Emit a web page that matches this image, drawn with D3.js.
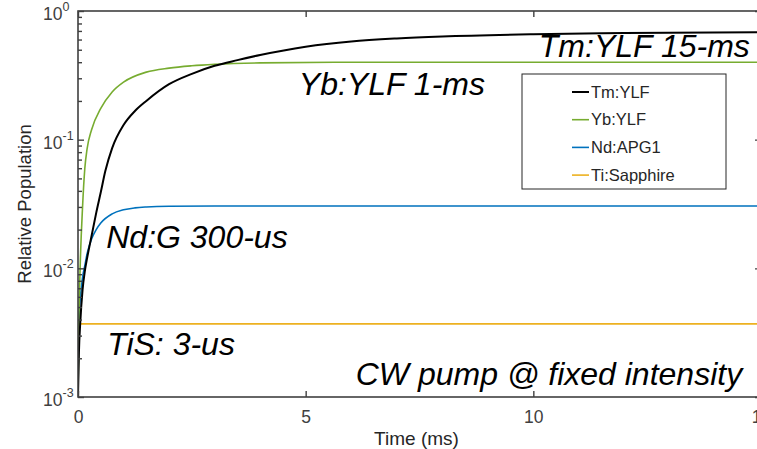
<!DOCTYPE html>
<html>
<head>
	<meta charset='utf-8'>
	<style>
		body { margin: 0; background: #fff; }
		svg { font-family: 'Liberation Sans', Arial, sans-serif; }
		.note { font-style: italic; font-size: 32px; fill: #000; }
		.legend text { font-size: 16.5px; fill: #262626; }
	</style>
</head>
<body>
<script src='https://d3js.org/d3.v7.min.js'></script>
<script>
	'use strict';
	// данные (время в мс, относительная населённость)
	const tmTime = [0, 0.02, 0.05, 0.1, 0.15, 0.2, 0.3, 0.4, 0.5, 0.6, 0.75, 1, 1.25, 1.5, 2, 2.5, 3, 3.5, 4, 5, 6, 7, 8, 10, 12, 15];
	const tmPop = [0.001, 0.0022, 0.0038, 0.0068, 0.0095, 0.012, 0.018, 0.027, 0.039, 0.057, 0.086, 0.13, 0.167, 0.2, 0.27, 0.325, 0.375, 0.415, 0.455, 0.528, 0.58, 0.612, 0.634, 0.66, 0.674, 0.685];

	const ybTime = [0, 0.02, 0.05, 0.1, 0.15, 0.2, 0.3, 0.5, 0.75, 1, 1.5, 2, 2.5, 3, 4, 6, 15];
	const ybPop = [0.001, 0.004, 0.011, 0.03, 0.06, 0.085, 0.12, 0.175, 0.235, 0.28, 0.335, 0.36, 0.375, 0.385, 0.395, 0.40, 0.40];

	const ndTime = [0, 0.01, 0.03, 0.05, 0.1, 0.15, 0.2, 0.3, 0.4, 0.5, 0.75, 1, 1.25, 1.5, 2, 3, 15];
	const ndPop = [0.001, 0.0035, 0.0048, 0.0058, 0.0085, 0.0105, 0.013, 0.017, 0.02, 0.0225, 0.0265, 0.0285, 0.0295, 0.030, 0.0304, 0.0305, 0.0305];

	const tisTime = [0, 0.002, 0.01, 15];
	const tisPop = [0.001, 0.0036, 0.0037, 0.0037];

	const seriesNames = ['Tm:YLF', 'Yb:YLF', 'Nd:APG1', 'Ti:Sapphire'];
	const seriesColors = ['#000000', '#77ac30', '#0072bd', '#edb120'];
	const xTicks = [0, 5, 10, 15];
	const yTicks = [1e-3, 1e-2, 1e-1, 1];
	const yExp = ['-3', '-2', '-1', '0'];

	// подписи на графике: текст, время, уровень
	const noteText = ['Tm:YLF 15-ms', 'Yb:YLF 1-ms', 'Nd:G 300-us', 'TiS: 3-us', 'CW pump @ fixed intensity'];
	const noteTime = [10.12, 4.85, 0.62, 0.64, 6.1];
	const notePop = [0.44, 0.222, 0.0144, 0.00212, 0.00124];

	const W = 757, H = 449;
	const m = {left: 78, right: 761, top: 11, bottom: 397};

	const x = d3.scaleLinear().domain([0, 15]).range([m.left, m.right]);
	const y = d3.scaleLog().domain([1e-3, 1]).range([m.bottom, m.top]);

	const svg = d3.select('body').append('svg')
		.attr('width', W)
		.attr('height', H);

	svg.append('defs').append('clipPath').attr('id', 'plot')
		.append('rect')
		.attr('x', m.left).attr('y', m.top)
		.attr('width', m.right - m.left).attr('height', m.bottom - m.top);

	// кривые
	const series = [
		{t: tmTime, v: tmPop, w: 2},
		{t: ybTime, v: ybPop, w: 1.6},
		{t: ndTime, v: ndPop, w: 1.6},
		{t: tisTime, v: tisPop, w: 1.8}
	];
	const line = d3.line()
		.x(function(d) {return x(d[0]);})
		.y(function(d) {return y(d[1]);})
		.curve(d3.curveMonotoneX);

	const g = svg.append('g').attr('clip-path', 'url(#plot)');
	// порядок рисования: оранжевый снизу, черный сверху
	[3, 2, 1, 0].forEach(function(i) {
		const s = series[i];
		g.append('path')
			.attr('d', line(d3.zip(s.t, s.v)))
			.attr('fill', 'none')
			.attr('stroke', seriesColors[i])
			.attr('stroke-width', s.w);
	});

	// оси
	const axisColor = '#404040';
	const ax = svg.append('g').attr('class', 'axis');

	ax.append('rect')
		.attr('x', m.left).attr('y', m.top)
		.attr('width', m.right - m.left).attr('height', m.bottom - m.top)
		.attr('fill', 'none')
		.attr('stroke', axisColor)
		.attr('stroke-width', 1.6);

	ax.append('g')
		.attr('transform', 'translate(0,' + m.bottom + ')')
		.call(d3.axisBottom(x).tickValues(xTicks).tickSizeInner(-6).tickSizeOuter(0).tickPadding(14));
	ax.append('g')
		.attr('transform', 'translate(0,' + m.top + ')')
		.call(d3.axisTop(x).tickValues(xTicks).tickSizeInner(-6).tickSizeOuter(0).tickFormat(''));

	// малые деления по логарифмической оси
	const minor = [];
	for (let e = -3; e < 0; e++) {
		for (let k = 2; k <= 9; k++) minor.push(k * Math.pow(10, e));
	}
	ax.append('g')
		.attr('transform', 'translate(' + m.left + ',0)')
		.call(d3.axisLeft(y).tickValues(yTicks).tickSizeInner(-6).tickSizeOuter(0).tickFormat(''));
	ax.append('g')
		.attr('transform', 'translate(' + m.left + ',0)')
		.call(d3.axisLeft(y).tickValues(minor).tickSizeInner(-4).tickSizeOuter(0).tickFormat(''));
	ax.append('g')
		.attr('transform', 'translate(' + m.right + ',0)')
		.call(d3.axisRight(y).tickValues(yTicks).tickSizeInner(-6).tickSizeOuter(0).tickFormat(''));
	ax.append('g')
		.attr('transform', 'translate(' + m.right + ',0)')
		.call(d3.axisRight(y).tickValues(minor).tickSizeInner(-4).tickSizeOuter(0).tickFormat(''));

	ax.selectAll('.domain').remove();
	ax.selectAll('.tick line').attr('stroke', axisColor).attr('stroke-width', 1.4);
	ax.selectAll('.tick text')
		.attr('fill', axisColor)
		.attr('font-size', 17.5)
		.attr('font-family', null);

	// подписи 10^n
	yTicks.forEach(function(v, i) {
		const t = ax.append('text')
			.attr('x', 43)
			.attr('y', y(v) + 9)
			.attr('font-size', 17.5)
			.attr('fill', axisColor);
		t.append('tspan').text('10');
		t.append('tspan')
			.attr('dy', -9)
			.attr('font-size', 12.5)
			.text(yExp[i]);
	});

	ax.append('text')
		.attr('x', (m.left + m.right) / 2 - 3)
		.attr('y', 445)
		.attr('text-anchor', 'middle')
		.attr('font-size', 19)
		.attr('fill', '#262626')
		.text('Time (ms)');

	ax.append('text')
		.attr('transform', 'translate(31,' + (m.top + m.bottom) / 2 + ') rotate(-90)')
		.attr('text-anchor', 'middle')
		.attr('font-size', 18.5)
		.attr('fill', '#262626')
		.text('Relative Population');

	// надписи
	noteText.forEach(function(s, i) {
		svg.append('text')
			.attr('class', 'note')
			.attr('x', x(noteTime[i]))
			.attr('y', y(notePop[i]))
			.text(s);
	});

	// легенда
	const lg = svg.append('g').attr('class', 'legend');
	lg.append('rect')
		.attr('x', 522).attr('y', 74)
		.attr('width', 204).attr('height', 115)
		.attr('fill', '#fff')
		.attr('stroke', '#262626')
		.attr('stroke-width', 1);
	seriesNames.forEach(function(name, i) {
		const ry = 92 + i * 27.7;
		lg.append('line')
			.attr('x1', 572).attr('x2', 589)
			.attr('y1', ry).attr('y2', ry)
			.attr('stroke', seriesColors[i])
			.attr('stroke-width', i === 0 ? 2 : 1.6);
		lg.append('text')
			.attr('x', 591)
			.attr('y', ry)
			.attr('dy', '0.35em')
			.text(name);
	});
</script>
</body>
</html>
